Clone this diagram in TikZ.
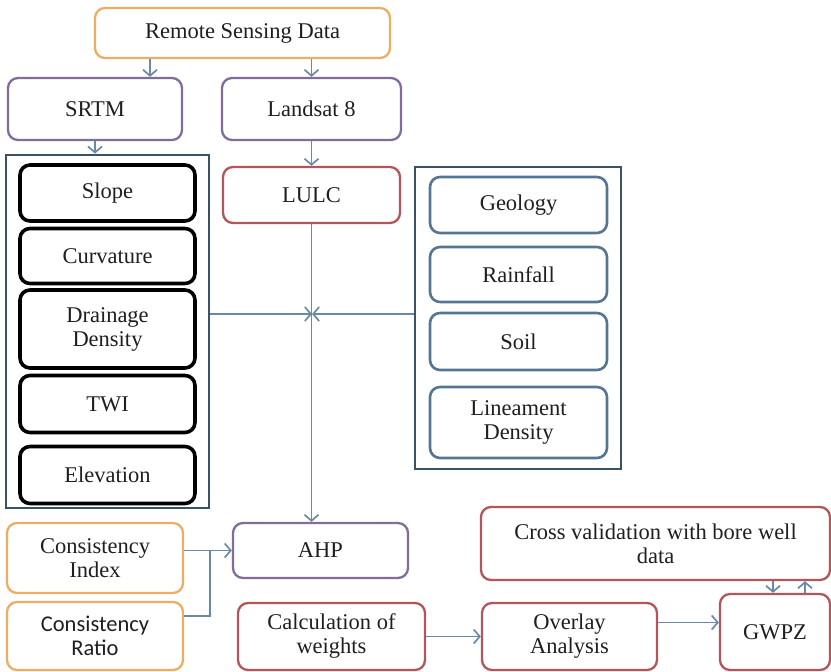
\documentclass[tikz,border=0pt]{standalone}
\usepackage{fontspec}
\setmainfont{Liberation Serif}
\newfontfamily\calibrifont{Carlito}
\usetikzlibrary{arrows.meta}

\definecolor{orangeline}{RGB}{236,174,100}
\definecolor{purpleline}{RGB}{128,110,152}
\definecolor{redline}{RGB}{178,86,92}
\definecolor{blueline}{RGB}{84,118,148}
\definecolor{frameline}{RGB}{58,82,102}
\definecolor{arrowline}{RGB}{104,138,168}

\begin{document}
\begin{tikzpicture}
[x=1pt, y=-1pt, font=\fontsize{22.5}{24}\selectfont, text=black!88,
every node/.style={draw, rounded corners=10pt, align=center, inner sep=0pt, line width=2.3pt},
link/.style={draw=arrowline, line width=1.7pt, -{Straight Barb[length=6pt, width=14pt]}},
plain/.style={draw=arrowline, line width=1.7pt}
]

\useasboundingbox (0,0) rectangle (831,672);

% data sources
\node[draw=orangeline, minimum width=295pt, minimum height=50pt] (remote) at (242.5,33) {Remote Sensing Data};
\node[draw=purpleline, minimum width=174pt, minimum height=62pt] (srtm) at (95,109) {SRTM};
\node[draw=purpleline, minimum width=179pt, minimum height=62pt] (landsat) at (311.5,109) {Landsat 8};
\node[draw=redline, minimum width=177pt, minimum height=56pt] (lulc) at (311.5,195) {LULC};

% thematic layers, left and right groups
\node[draw=frameline, rounded corners=0pt, line width=2.8pt, minimum width=203pt, minimum height=353pt] (leftbox) at (107.5,331.5) {};
\node[draw=frameline, rounded corners=0pt, line width=2.8pt, minimum width=206pt, minimum height=302pt] (rightbox) at (518,318) {};

\foreach \n/\y/\h/\t in {slope/193/56/Slope, curv/256/55/Curvature, drain/329/78/{Drainage\\Density}, twi/404/57/TWI, elev/475/57/Elevation}
{\node[draw=black, line width=3.6pt, minimum width=175pt, minimum height=\h pt] (\n) at (107.5,\y) {\t};}

\foreach \n/\y/\h/\t in {geol/205/56/Geology, rain/274.5/55/Rainfall, soil/341.5/57/Soil, linea/422.5/71/{Lineament\\Density}}
{\node[draw=blueline, line width=2.6pt, minimum width=177pt, minimum height=\h pt] (\n) at (518.5,\y) {\t};}

% weighting and output
\node[draw=purpleline, minimum width=175pt, minimum height=55pt] (ahp) at (320.5,550.5) {AHP};
\node[draw=orangeline, minimum width=176pt, minimum height=70pt] (ci) at (95,558) {Consistency\\Index};
\node[draw=orangeline, minimum width=176pt, minimum height=68pt] (cr) at (95,636) {\calibrifont Consistency\\\calibrifont Ratio};
\node[draw=redline, minimum width=187pt, minimum height=67pt] (calc) at (331.5,636.5) {Calculation of\\weights};
\node[draw=redline, minimum width=175pt, minimum height=67pt] (overlay) at (569.5,636.5) {Overlay\\Analysis};
\node[draw=redline, minimum width=110pt, minimum height=76pt] (gwpz) at (775,632) {GWPZ};
\node[draw=redline, minimum width=349pt, minimum height=73pt] (cross) at (655.5,543.5) {Cross validation with bore well\\data};

\coordinate (mid) at (312,314);
\coordinate (join) at (210,550.5);

% connectors
\draw[link] ([xshift=55pt]srtm.north |- remote.south) -- ([xshift=55pt]srtm.north);
\draw[link] (landsat.north |- remote.south) -- (landsat.north);
\draw[link] (srtm.south) -- (srtm.south |- leftbox.north);
\draw[link] (landsat.south) -- (lulc.north);
\draw[link] (lulc.south) -- (lulc.south |- ahp.north);
\draw[link] (leftbox.east |- mid) -- (mid);
\draw[link] (rightbox.west |- mid) -- (mid);
\draw[link] (ci.east |- join) -- (ahp.west);
\draw[plain] ([yshift=20pt]cr.east) -| (join);
\draw[link] (calc.east) -- (overlay.west);
\draw[link] ([yshift=14pt]overlay.east) -- ([yshift=14pt]overlay.east -| gwpz.west);
\draw[link] ([xshift=-2pt]gwpz.north |- cross.south) -- ([xshift=-2pt]gwpz.north);
\draw[link] ([xshift=30pt]gwpz.north) -- ([xshift=30pt]gwpz.north |- cross.south);

\end{tikzpicture}
\end{document}
